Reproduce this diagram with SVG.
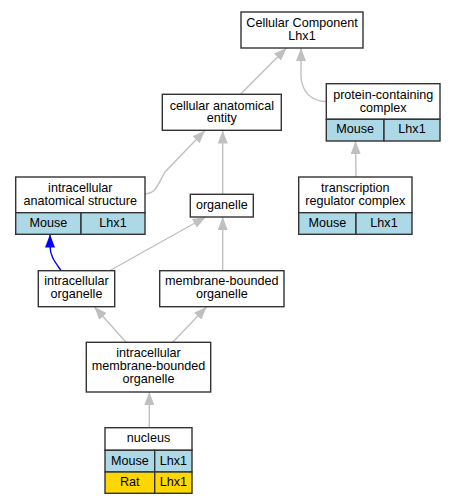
<svg xmlns="http://www.w3.org/2000/svg" width="455" height="504" viewBox="0 0 455 504">
<style>
text{font-family:"Liberation Sans",Arial,sans-serif;font-size:12.6px;fill:#000;text-anchor:middle}
.n{fill:#fff;stroke:#333;stroke-width:1.4}
.b{fill:#add8e6;stroke:#333;stroke-width:1.4}
.g{fill:#ffd700;stroke:#333;stroke-width:1.4}
.e{fill:none;stroke:#c0c0c0;stroke-width:1.4;marker-end:url(#ag)}
.eb{fill:none;stroke:#0000ff;stroke-width:1.4;marker-end:url(#ab)}
</style>
<defs>
<marker id="ag" markerUnits="userSpaceOnUse" markerWidth="14" markerHeight="10" refX="13" refY="5" orient="auto"><path d="M0,0 L13,5 L0,10 z" fill="#c0c0c0"/></marker>
<marker id="ab" markerUnits="userSpaceOnUse" markerWidth="14" markerHeight="10" refX="13" refY="5" orient="auto"><path d="M0,0 L13,5 L0,10 z" fill="#0000ff"/></marker>
</defs>
<rect width="455" height="504" fill="#fff"/>
<g id="connectors">
<path class="e" d="M240.7,94 L286.5,48"/>
<path class="e" d="M326,101.5 C312,101.5 301,92 301,75 L301,48"/>
<path class="e" d="M356,177 L355.5,141"/>
<path class="e" d="M145,193.7 C156,193.7 158,184 165,172 L205,130.5"/>
<path class="e" d="M222.7,194 L222.7,130.5"/>
<path class="e" d="M110,270.5 L205.7,217"/>
<path class="e" d="M222.7,270.7 L222.7,217"/>
<path class="eb" d="M61,270.5 C55,262 50,256 50,246 L50,234.5"/>
<path class="e" d="M126,342.3 L94.3,306.7"/>
<path class="e" d="M172.7,342.3 L206.7,306.7"/>
<path class="e" d="M149.3,427.7 L149.3,392"/>
</g>
<g id="cellular_component">
<rect class="n" x="241" y="12" width="122" height="36"/>
<text x="302" y="26.5">Cellular Component</text>
<text x="302" y="39.5">Lhx1</text>
</g>
<g id="cellular_anatomical_entity">
<rect class="n" x="162.3" y="94.3" width="119" height="36"/>
<text x="221.8" y="109.5">cellular anatomical</text>
<text x="221.8" y="122">entity</text>
</g>
<g id="protein_containing_complex">
<rect class="n" x="326.3" y="83.7" width="113.7" height="35.6"/>
<rect class="b" x="326.3" y="119.3" width="57.7" height="21.7"/>
<rect class="b" x="384" y="119.3" width="56" height="21.7"/>
<text x="383.2" y="98.5">protein-containing</text>
<text x="383.2" y="111.5">complex</text>
<text x="355.2" y="132.8">Mouse</text>
<text x="412" y="132.8">Lhx1</text>
</g>
<g id="intracellular_anatomical_structure">
<rect class="n" x="15.7" y="177" width="129.3" height="35.7"/>
<rect class="b" x="15.7" y="212.7" width="65.3" height="21.6"/>
<rect class="b" x="81" y="212.7" width="64" height="21.6"/>
<text x="80.3" y="191.5">intracellular</text>
<text x="80.3" y="205">anatomical structure</text>
<text x="48.3" y="226.8">Mouse</text>
<text x="113" y="226.8">Lhx1</text>
</g>
<g id="organelle">
<rect class="n" x="190.3" y="194.3" width="63" height="22.7"/>
<text x="221.8" y="209">organelle</text>
</g>
<g id="transcription_regulator_complex">
<rect class="n" x="298.7" y="177" width="113.3" height="35.7"/>
<rect class="b" x="298.7" y="212.7" width="57.3" height="21.6"/>
<rect class="b" x="356" y="212.7" width="56" height="21.6"/>
<text x="355.3" y="191.5">transcription</text>
<text x="355.3" y="205">regulator complex</text>
<text x="327.3" y="226.8">Mouse</text>
<text x="384" y="226.8">Lhx1</text>
</g>
<g id="intracellular_organelle">
<rect class="n" x="38.3" y="270.7" width="76.4" height="36"/>
<text x="76.5" y="285.2">intracellular</text>
<text x="76.5" y="297.8">organelle</text>
</g>
<g id="membrane_bounded_organelle">
<rect class="n" x="159.7" y="270.7" width="124.3" height="36"/>
<text x="221.8" y="285.2">membrane-bounded</text>
<text x="221.8" y="297.8">organelle</text>
</g>
<g id="intracellular_membrane_bounded_organelle">
<rect class="n" x="86.3" y="342.3" width="124.4" height="49.7"/>
<text x="148.5" y="357">intracellular</text>
<text x="148.5" y="370.2">membrane-bounded</text>
<text x="148.5" y="383.4">organelle</text>
</g>
<g id="nucleus">
<rect class="n" x="105" y="427.7" width="87" height="22.6"/>
<rect class="b" x="105" y="450.3" width="49.7" height="21.7"/>
<rect class="b" x="154.7" y="450.3" width="37.3" height="21.7"/>
<rect class="g" x="105" y="472" width="49.7" height="21.3"/>
<rect class="g" x="154.7" y="472" width="37.3" height="21.3"/>
<text x="148.5" y="442.2">nucleus</text>
<text x="129.8" y="464.5">Mouse</text>
<text x="173.3" y="464.5">Lhx1</text>
<text x="129.8" y="485.5">Rat</text>
<text x="173.3" y="485.5">Lhx1</text>
</g>
</svg>
